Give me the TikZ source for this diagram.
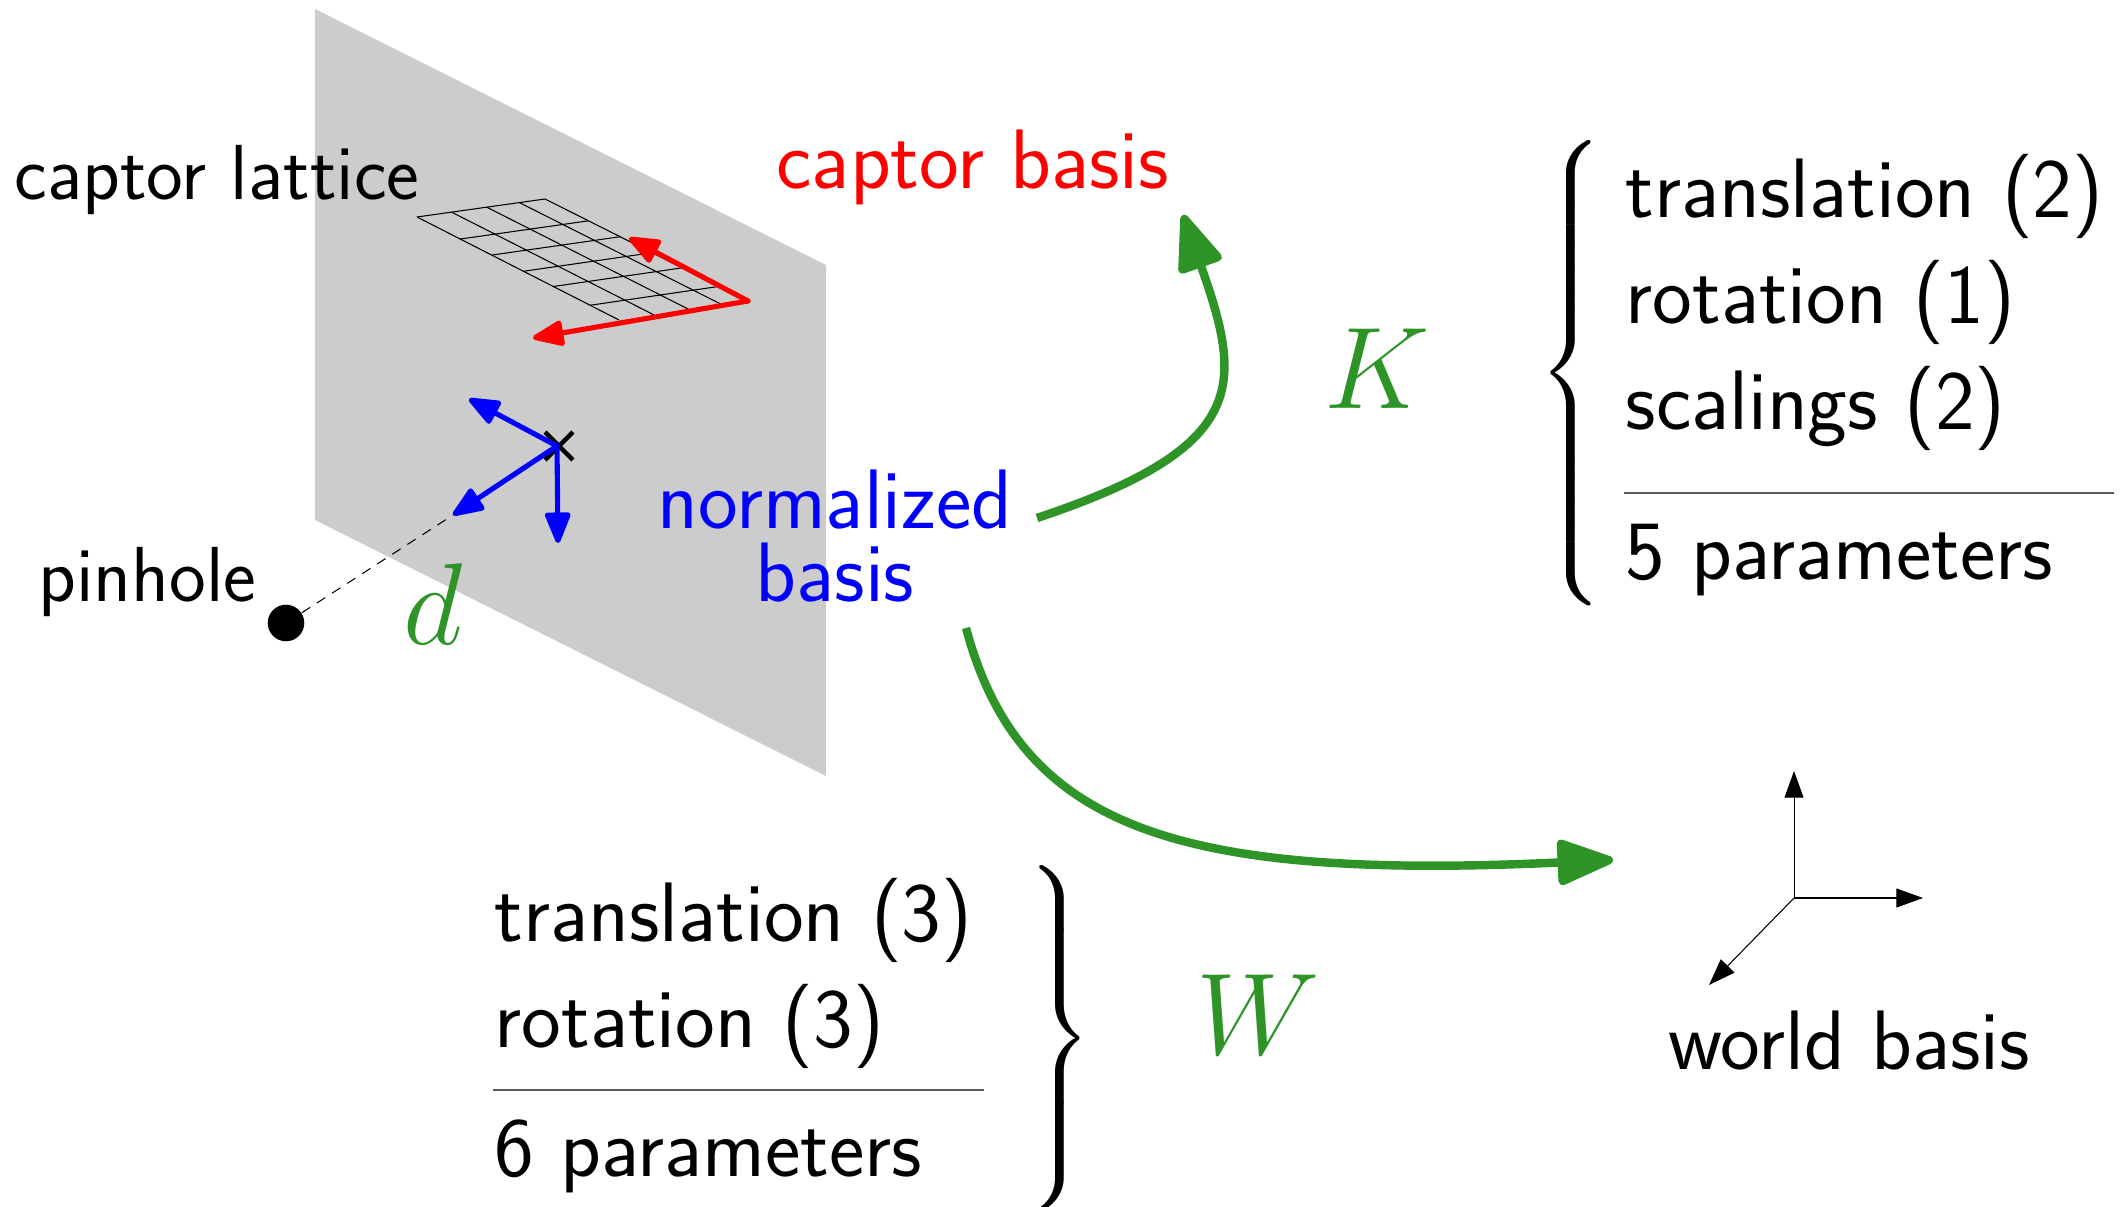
\documentclass[tikz,border=0pt]{standalone}
\usepackage{amsmath}
\usepackage{tikz}
\usetikzlibrary{arrows.meta,calc,shapes.misc}
\definecolor{PlaneGray}{HTML}{CCCCCC}
\definecolor{MapGreen}{HTML}{2E9428}
\tikzset{
    % Base label style
    baselabel/.style={
        anchor=base west,
        inner sep=0pt,
        font=\fontsize{24}{28}\selectfont\sffamily
    },
    % Smaller label next to the plane
    smalllabel/.style={
        baselabel,
        font=\fontsize{22.2}{26}\selectfont\sffamily
    },
    % Green symbol label
    symbollabel/.style={
        inner sep=0pt,
        text=MapGreen,
        scale=1.33,
        font=\fontsize{24.88}{30}\selectfont
    },
    % Big curly brace
    bracenode/.style={
        inner sep=0pt,
        font=\fontsize{22}{26}\selectfont
    },
    % Basis arrows on the plane
    planearrow/.style={
        -{Triangle[round,length=10pt,width=7.6pt]},
        line width=1.45pt,
        line cap=round,
        line join=round
    },
    % World basis arrows
    worldarrow/.style={
        -{Triangle[length=7.6pt,width=5.4pt]},
        line width=0.3pt
    },
    % Green curved maps
    maparrow/.style={
        -{Triangle[round,length=18pt,width=13.5pt]},
        line width=2.4pt,
        draw=MapGreen
    },
    % Thin rule
    sumrule/.style={
        line width=0.3pt,
        draw=black!65
    }
}
\begin{document}
\begin{tikzpicture}[x=0.01cm,y=-0.01cm]
        \useasboundingbox (0,0) rectangle (2128,1207);

        % Plane
        \fill[PlaneGray] (315,9) -- (826,265) -- (826,776) -- (315,520) -- cycle;

        % Lattice
        \coordinate (gridA) at (417,217);
        \coordinate (gridB) at (545,199);
        \coordinate (gridC) at (748,301);
        \coordinate (gridD) at (619,320);
        \foreach \t in {0,0.214,0.37,0.527,0.675,0.857}
            \draw[line width=0.3pt] ($(gridA)!\t!(gridD)$) -- ($(gridB)!\t!(gridC)$);
        \foreach \t in {0,0.27,0.545,0.8,1}
            \draw[line width=0.3pt] ($(gridA)!\t!(gridB)$) -- ($(gridD)!\t!(gridC)$);

        % Captor basis
        \coordinate (redx) at (629,238);
        \coordinate (redy) at (533,338);
        \draw[planearrow, red] (gridC) -- (redx);
        \draw[planearrow, red] (gridC) -- (redy);

        % Normalized basis
        \node[cross out, draw, line width=1.3pt, inner sep=0pt, minimum size=6.6pt] (center) at (559,446) {};
        \coordinate (bluex) at (469,399);
        \coordinate (bluey) at (453,515);
        \coordinate (bluez) at (558,543);
        \draw[planearrow, blue] (557,446) -- (bluex);
        \draw[planearrow, blue] (557,446) -- (bluey);
        \draw[planearrow, blue] (557,446) -- (bluez);

        % Pinhole
        \node[circle, fill=black, inner sep=0pt, minimum size=10.4pt] (pinhole) at (286,623) {};
        \draw[line width=0.3pt, dash pattern=on 2.8pt off 2.3pt] (pinhole) -- (bluey);

        % Left labels
        \node[smalllabel] (lattice) at (14,200) {captor lattice};
        \node[smalllabel] (pinname) at (38,602) {pinhole};
        \node[symbollabel] (dist) at (433,604) {$d$};
        \node[baselabel, text=red] (captor) at (776,189) {captor basis};
        \node[baselabel, text=blue, anchor=base] (norm1) at (835,529) {normalized};
        \node[baselabel, text=blue, anchor=base] (norm2) at (835,602) {basis};

        % Maps
        \coordinate (kstart) at (1037,518);
        \coordinate (kend) at (1183,215);
        \coordinate (wstart) at (966,628);
        \coordinate (wend) at (1613,860);
        \draw[maparrow] (kstart) .. controls (1250,447) and (1243,385) .. (kend);
        \draw[maparrow] (wstart) .. controls (1020,830) and (1180,880) .. (wend);
        \node[symbollabel] (kname) at (1377,369) {$K$};
        \node[symbollabel] (wname) at (1258,1015) {$W$};

        % Intrinsic parameters
        \node[bracenode, yscale=0.966] (kbrace) at (1573,373) {$\left\{\rule[-2.1cm]{0pt}{4.2cm}\right.$};
        \node[baselabel] (k1) at (1625,218) {translation (2)};
        \node[baselabel] (k2) at (1625,324) {rotation (1)};
        \node[baselabel] (k3) at (1625,430) {scalings (2)};
        \coordinate (krule1) at (1624,493);
        \coordinate (krule2) at (2114,493);
        \draw[sumrule] (krule1) -- (krule2);
        \node[baselabel] (k4) at (1625,580) {5 parameters};

        % Extrinsic parameters
        \node[baselabel] (w1) at (494,941) {translation (3)};
        \node[baselabel] (w2) at (494,1047) {rotation (3)};
        \coordinate (wrule1) at (493,1090);
        \coordinate (wrule2) at (984,1090);
        \draw[sumrule] (wrule1) -- (wrule2);
        \node[baselabel] (w3) at (494,1176) {6 parameters};
        \node[bracenode, yscale=0.988] (wbrace) at (1058,1038) {$\left.\rule[-1.55cm]{0pt}{3.1cm}\right\}$};

        % World basis
        \coordinate (world) at (1794,898);
        \coordinate (worldx) at (1923,898);
        \coordinate (worldy) at (1794,771);
        \coordinate (worldz) at (1709,985);
        \draw[worldarrow] (world) -- (worldx);
        \draw[worldarrow] (world) -- (worldy);
        \draw[worldarrow] (world) -- (worldz);
        \node[baselabel] (worldname) at (1668,1069) {world basis};
    \end{tikzpicture}
\end{document}
